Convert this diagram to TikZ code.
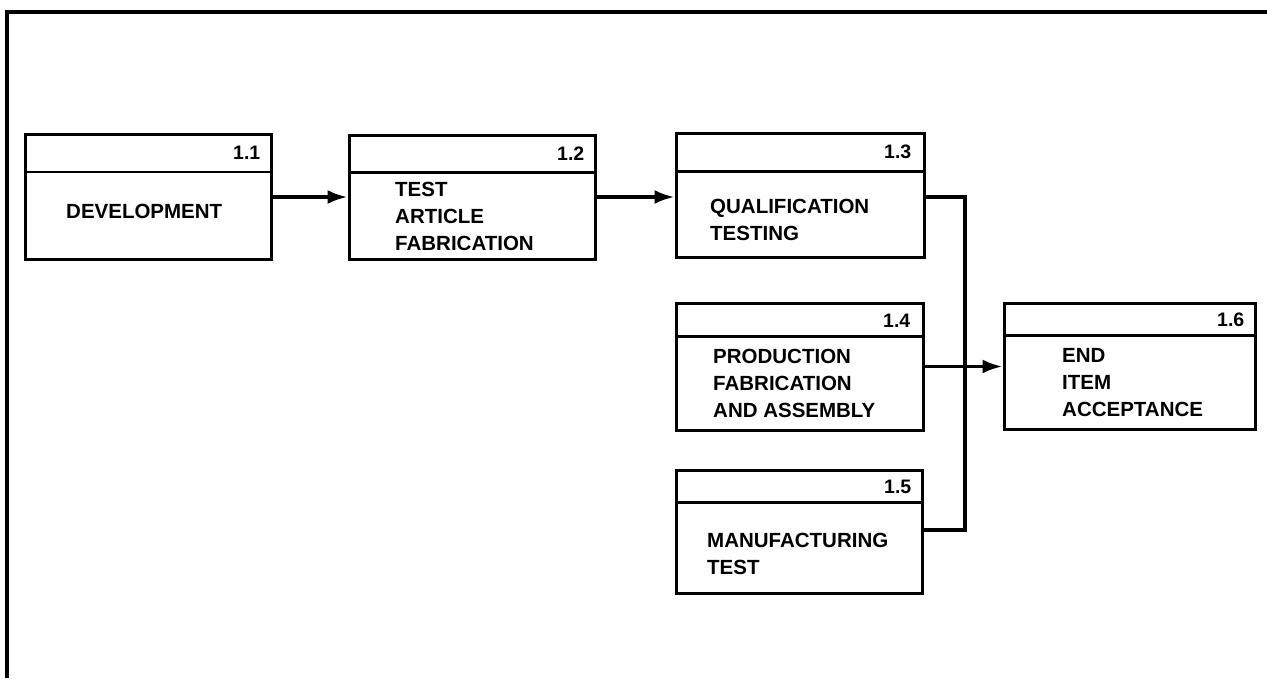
\documentclass[tikz,border=0pt]{standalone}
\usepackage{fontspec}
\setmainfont{Liberation Sans}
\usetikzlibrary{arrows.meta}
\tikzset{
  wbs/.style={draw, line width=3pt, inner sep=0pt},
  divline/.style={line width=2.2pt},
  num/.style={font=\fontsize{19.5}{22}\selectfont\bfseries, anchor=east, inner sep=0pt},
  label/.style={font=\fontsize{20.5}{27}\selectfont\bfseries, align=left, anchor=west, inner sep=0pt},
  conn/.style={line width=3.5pt},
  arr/.style={line width=3.5pt, -{Latex[length=20pt,width=14pt]}},
}
\begin{document}
\begin{tikzpicture}[x=1pt,y=-1pt]
\useasboundingbox (0,0) rectangle (1267,678);
\draw[line width=3.5pt] (1267,12) -- (7,12) -- (7,678);
% boxes
\node[wbs, minimum width=246pt, minimum height=125pt] (b11) at (148,197) {};
\node[wbs, minimum width=246pt, minimum height=124pt] (b12) at (472,197) {};
\node[wbs, minimum width=248pt, minimum height=124pt] (b13) at (800,195) {};
\node[wbs, minimum width=247pt, minimum height=127pt] (b14) at (799.5,366.5) {};
\node[wbs, minimum width=246pt, minimum height=123pt] (b15) at (799,531.5) {};
\node[wbs, minimum width=251pt, minimum height=126pt] (b16) at (1129.5,366) {};
% dividers
\draw[divline] (b11.north west) ++(0,39) -- ++(246,0);
\draw[divline] (b12.north west) ++(0,39) -- ++(246,0);
\draw[divline] (b13.north west) ++(0,40) -- ++(248,0);
\draw[divline] (b14.north west) ++(0,35) -- ++(247,0);
\draw[divline] (b15.north west) ++(0,34) -- ++(246,0);
\draw[divline] (b16.north west) ++(0,34) -- ++(251,0);
% numbers
\node[num] (n11) at ([xshift=-12pt,yshift=-20pt]b11.north east) {1.1};
\node[num] (n12) at ([xshift=-12pt,yshift=-20pt]b12.north east) {1.2};
\node[num] (n13) at ([xshift=-14pt,yshift=-20pt]b13.north east) {1.3};
\node[num] (n14) at ([xshift=-14pt,yshift=-19pt]b14.north east) {1.4};
\node[num] (n15) at ([xshift=-12pt,yshift=-18pt]b15.north east) {1.5};
\node[num] (n16) at ([xshift=-12pt,yshift=-18pt]b16.north east) {1.6};
% labels
\node[label] (t11) at (66,211) {DEVELOPMENT};
\node[label] (t12) at (395,216) {TEST\\ARTICLE\\FABRICATION};
\node[label] (t13) at (710,219.5) {QUALIFICATION\\TESTING};
\node[label] (t14) at (713,383) {PRODUCTION\\FABRICATION\\AND ASSEMBLY};
\node[label] (t15) at (707,554) {MANUFACTURING\\TEST};
\node[label] (t16) at (1062,383) {END\\ITEM\\ACCEPTANCE};
% connectors
\coordinate (j) at (965,366);
\draw[arr] (b11.east) -- (b12.west);
\draw[arr] (b12.east) -- (b12.east -| b13.west);
\draw[conn] ([yshift=-2pt]b13.east) -| (j);
\draw[conn] ([yshift=1.5pt]b15.east) -| (j);
\draw[arr] (b14.east) -- (b14.east -| b16.west);
\end{tikzpicture}
\end{document}
